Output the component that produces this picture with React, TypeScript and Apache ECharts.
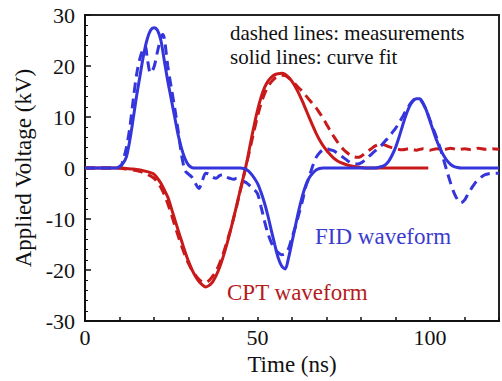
import React, { useEffect, useRef } from "react";
import * as echarts from "echarts";

// Time (ns) vs applied voltage (kV)
const fidFit: [number, number][] = [
  [0, 0], [5, 0], [9, 0], [10, 0.3], [11, 0.9], [12, 2.2], [13, 5.5], [14, 9.8], [15, 14.3], [16, 18.3],
  [17, 22.2], [18, 25.2], [19, 27], [20, 27.5], [21, 27], [22, 25], [23, 21], [24, 17], [25, 13.5],
  [26, 10], [27, 6.5], [28, 3.8], [29, 1.8], [30, 0.6], [31, 0.1], [32, 0], [45, 0], [46, -0.1],
  [47, -0.4], [48, -1], [49, -1.9], [50, -3], [51, -4.7], [52, -6.8], [53, -9.3], [54, -12.2],
  [55, -15], [56, -17.6], [57, -19.2], [58, -19.8], [59, -17.6], [60, -14.5], [61, -11.3], [62, -8.2],
  [63, -5.5], [64, -3.4], [65, -1.9], [66, -1], [67, -0.4], [68, -0.1], [69, 0], [84, 0], [85, 0.1],
  [86, 0.3], [87, 0.6], [88, 1.3], [89, 2.5], [90, 4], [91, 6], [92, 8.2], [93, 10.3], [94, 12],
  [95, 13.1], [96, 13.6], [97, 13.6], [98, 12.7], [99, 11.2], [100, 9.2], [101, 7.2], [102, 5.3],
  [103, 3.7], [104, 2.4], [105, 1.4], [106, 0.7], [107, 0.3], [108, 0.1], [109, 0], [120, 0],
];

const fidMeas: [number, number][] = [
  [0, 0], [10, 0], [11, 1.5], [12, 4], [13, 8], [14, 13.5], [15, 18.5], [16, 21.7], [17, 23.6],
  [17.5, 23.9], [18, 21.8], [19, 18.6], [20, 19.8], [21, 22.8], [22, 25.5], [22.5, 26.2], [23, 25.4],
  [24, 20], [25, 15.8], [26, 11.8], [27, 7.3], [28, 2.5], [29, -0.5], [30, -1.2], [31, -1.8],
  [32, -3], [33, -4], [34, -2.5], [35, -1], [36, -1.2], [37, -1.8], [38, -2], [39, -1.5], [40, -1.3],
  [41, -1.8], [42, -2], [43, -2.2], [44, -2], [45, -2.2], [46, -2.6], [47, -3], [48, -3.6],
  [49, -4.2], [50, -5], [51, -7.5], [52, -10.3], [53, -12.8], [54, -14.6], [55, -15.8], [56, -16.6],
  [57, -17], [58, -16.8], [59, -15.8], [60, -13.6], [61, -11.5], [62, -9], [63, -6.5], [64, -3.6],
  [65, -1.7], [66, 0.4], [67, 2.1], [68, 3], [69, 3.6], [70, 3.8], [71, 3.6], [72, 3.4], [73, 3],
  [74, 2.5], [75, 2], [76, 1.5], [77, 1.1], [78, 0.9], [79, 0.8], [80, 1], [81, 1.5], [82, 2.1],
  [83, 2.7], [84, 3.3], [85, 3.9], [86, 4.5], [87, 5.3], [88, 6], [89, 6.9], [90, 7.8], [91, 8.8],
  [92, 10], [93, 11.2], [94, 12.3], [95, 13.2], [96, 13.6], [97, 13.5], [98, 12.6], [99, 11.2],
  [100, 9.4], [101, 7.6], [102, 5.8], [103, 3.8], [104, 1.5], [105, -0.8], [106, -3], [107, -4.9],
  [108, -6.2], [109, -6.8], [110, -6.3], [111, -5.1], [112, -4], [113, -3], [114, -2.3], [115, -1.7],
  [116, -1.3], [117, -1.1], [118, -1], [120, -1],
];

const cptFit: [number, number][] = [
  [0, 0], [10, 0], [12, -0.1], [14, -0.2], [16, -0.4], [18, -0.7], [19, -0.9], [20, -1.2], [21, -2],
  [22, -3], [23, -4.3], [24, -5.7], [25, -7.8], [26, -10], [27, -12.2], [28, -14.3], [29, -16.4],
  [30, -18.3], [31, -19.9], [32, -21.2], [33, -22.2], [34, -22.9], [35, -23.3], [36, -23], [37, -22.3],
  [38, -21.1], [39, -19.5], [40, -17.5], [41, -15.2], [42, -12.7], [43, -10], [44, -7.2], [45, -4.3],
  [46, -1.5], [47, 1.5], [48, 5], [49, 8.3], [50, 11.3], [51, 13.8], [52, 15.7], [53, 17], [54, 17.8],
  [55, 18.3], [56, 18.5], [57, 18.6], [58, 18.4], [59, 17.8], [60, 17], [61, 15.9], [62, 14.6],
  [63, 13.1], [64, 11.5], [65, 9.9], [66, 8.3], [67, 6.8], [68, 5.5], [69, 4.4], [70, 3.5], [71, 2.7],
  [72, 2], [73, 1.5], [74, 1.1], [76, 0.6], [78, 0.3], [80, 0.1], [82, 0], [99.5, 0],
];

const cptMeas: [number, number][] = [
  [0, 0], [10, 0], [12, -0.2], [14, -0.4], [16, -0.7], [18, -1.2], [20, -2], [21, -2.8], [22, -3.8],
  [23, -5.2], [24, -7], [25, -9], [26, -11.2], [27, -13.3], [28, -15.3], [29, -17.1], [30, -18.7],
  [31, -20], [32, -21], [33, -21.8], [34, -22.3], [35, -22.4], [36, -22], [37, -21.2], [38, -20.2],
  [39, -18.7], [40, -16.9], [41, -14.8], [42, -12.5], [43, -10], [44, -7.3], [45, -4.5], [46, -1.6],
  [47, 1.3], [48, 4.3], [49, 7.3], [50, 10.1], [51, 12.6], [52, 14.5], [53, 15.9], [54, 16.9],
  [55, 17.6], [56, 18], [57, 18.2], [58, 18.1], [59, 17.7], [60, 17.1], [61, 16.4], [62, 15.7],
  [63, 15], [64, 14.2], [65, 13.4], [66, 12.6], [67, 11.8], [68, 10.8], [69, 9.8], [70, 8.6],
  [71, 7.4], [72, 6.3], [73, 5.3], [74, 4.4], [75, 3.6], [76, 3], [77, 2.5], [78, 2.2], [79, 2.1],
  [80, 2.3], [81, 2.8], [82, 3.3], [83, 3.8], [84, 4.3], [85, 4.6], [86, 4.7], [87, 4.5], [88, 4.2],
  [89, 4], [90, 3.8], [92, 3.6], [94, 3.8], [96, 3.5], [98, 3.8], [100, 3.5], [102, 3.8], [104, 3.6],
  [106, 3.9], [108, 3.6], [110, 3.8], [112, 3.6], [114, 3.9], [116, 3.7], [118, 3.8], [120, 3.7],
];

const xRange = [0, 120];
const yRange = [-30, 30];
const xLabelStep = 50;
const annotations = ["dashed lines: measurements", "solid lines: curve fit"];
const fidLabel = "FID waveform";
const cptLabel = "CPT waveform";

const BLUE = "#3535dc";
const RED = "#c81a1a";
const FONT = "Liberation Serif";

export default function App() {
  const ref = useRef<HTMLDivElement>(null);
  useEffect(() => {
    if (!ref.current) return;
    const chart = echarts.init(ref.current, null, { renderer: "svg" });
    const line = (data: [number, number][], color: string, dashed: boolean, z: number) => ({
      type: "line",
      data,
      showSymbol: false,
      smooth: 0.3,
      z,
      lineStyle: { color, width: 3, type: dashed ? [10, 6] : "solid" },
    });
    const txt = (text: string, x: number, y: number, size: number, fill: string) => ({
      type: "text",
      x,
      y,
      style: { text, fontFamily: FONT, fontSize: size, fill, verticalAlign: "middle" },
    });
    chart.setOption({
      animation: false,
      backgroundColor: "#ffffff",
      textStyle: { fontFamily: FONT },
      grid: { left: 85, right: -9, top: 15, bottom: 54, show: true, borderColor: "#222", borderWidth: 2 },
      xAxis: {
        type: "value",
        min: xRange[0],
        max: xRange[1],
        interval: 10,
        name: "Time (ns)",
        nameLocation: "middle",
        nameGap: 30,
        nameTextStyle: { fontFamily: FONT, fontSize: 23, color: "#111" },
        axisLine: { onZero: false, lineStyle: { color: "#111", width: 2 } },
        axisTick: { inside: true, length: 4, interval: 0, lineStyle: { color: "#111", width: 1.5 } },
        axisLabel: {
          interval: 0,
          margin: 5,
          fontFamily: FONT,
          fontSize: 22,
          color: "#111",
          formatter: (v: number) => (v % xLabelStep === 0 ? String(v) : ""),
        },
        splitLine: { show: false },
      },
      yAxis: {
        type: "value",
        min: yRange[0],
        max: yRange[1],
        interval: 10,
        name: "Applied Voltage (kV)",
        nameLocation: "middle",
        nameGap: 47,
        nameRotate: 90,
        nameTextStyle: { fontFamily: FONT, fontSize: 23, color: "#111" },
        axisLine: { onZero: false, lineStyle: { color: "#111", width: 2 } },
        axisTick: { inside: true, length: 6, lineStyle: { color: "#111", width: 1.5 } },
        minorTick: { show: true, splitNumber: 5, length: 3, lineStyle: { color: "#111", width: 1 } },
        axisLabel: { margin: 10, fontFamily: FONT, fontSize: 22, color: "#111" },
        splitLine: { show: false },
      },
      series: [
        line(cptMeas, RED, true, 2),
        line(fidMeas, BLUE, true, 3),
        line(cptFit, RED, false, 4),
        line(fidFit, BLUE, false, 5),
      ],
      graphic: [
        txt(annotations[0], 230, 32.5, 21, "#111"),
        txt(annotations[1], 230, 56.5, 21, "#111"),
        txt(fidLabel, 315, 236, 23, "#3b3bd0"),
        txt(cptLabel, 227, 292, 23, "#b41c1c"),
      ],
    });
    return () => chart.dispose();
  }, []);
  return (
    <div
      ref={ref}
      style={{ position: "absolute", left: 0, top: 0, width: 502, height: 381, background: "#fff" }}
    />
  );
}
